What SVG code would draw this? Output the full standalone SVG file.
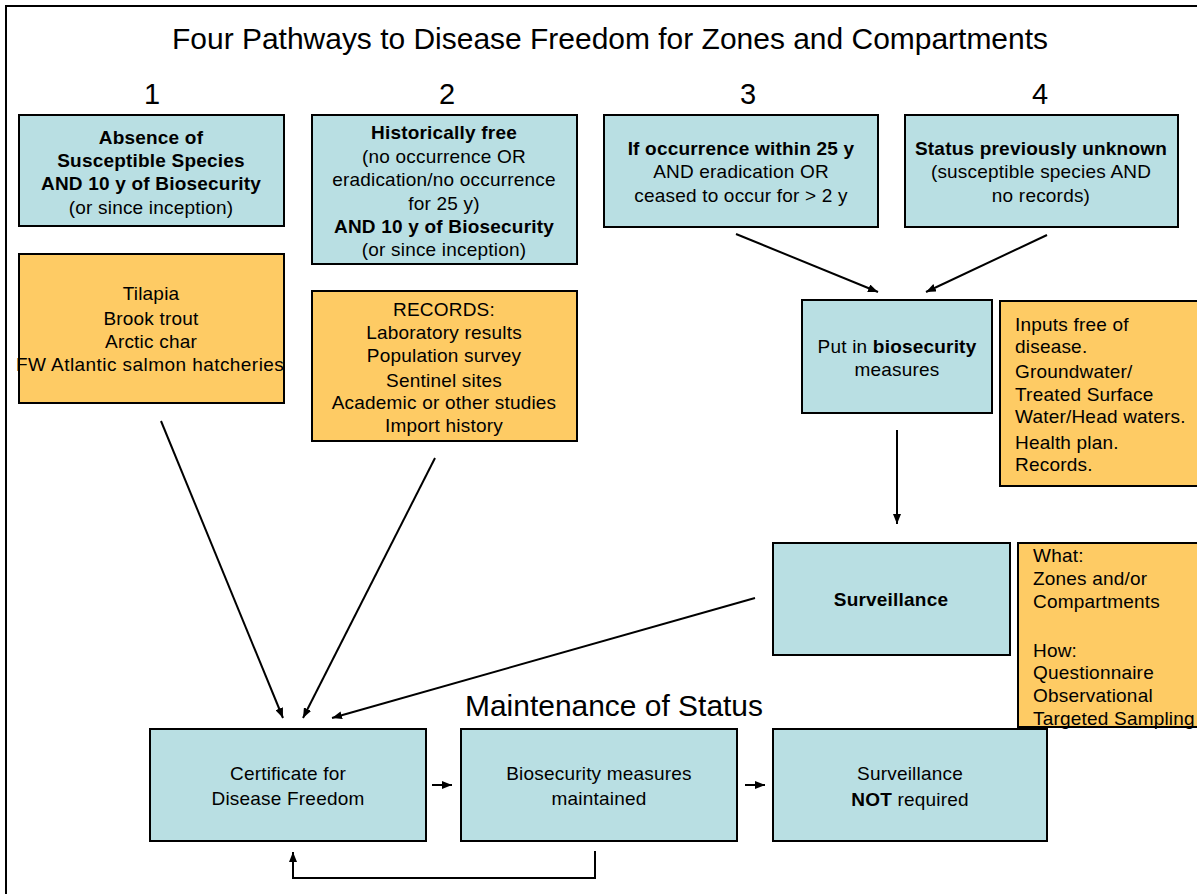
<svg xmlns="http://www.w3.org/2000/svg" width="1197" height="894" viewBox="0 0 1197 894">
<defs>
<marker id="ah" markerUnits="userSpaceOnUse" markerWidth="10" markerHeight="8" refX="10" refY="4" orient="auto">
<path d="M0,0 L10,4 L0,8 z" fill="#000"/>
</marker>
<style>
.blue{fill:#B9DFE3;stroke:#000;stroke-width:2}
.orange{fill:#FECB64;stroke:#000;stroke-width:2}
text{font-family:"Liberation Sans",Arial,sans-serif;fill:#000}
.t{font-size:19px;text-anchor:middle;letter-spacing:0.2px}
.l{font-size:19px;text-anchor:start;letter-spacing:0.2px}
.b{font-weight:bold}
.big{font-size:29px;text-anchor:middle}
.c{stroke:#000;stroke-width:2;fill:none}
.ca{stroke:#000;stroke-width:2;fill:none;marker-end:url(#ah)}
</style>
</defs>
<rect x="0" y="0" width="1197" height="894" fill="#fff"/>
<path d="M6,894 V6 H1197" fill="none" stroke="#000" stroke-width="2"/>

<g id="title">
<text class="big" x="610" y="49" textLength="876" lengthAdjust="spacingAndGlyphs">Four Pathways to Disease Freedom for Zones and Compartments</text>
</g>
<g id="numbers">
<text class="big" x="152" y="104">1</text>
<text class="big" x="447" y="104">2</text>
<text class="big" x="748" y="104">3</text>
<text class="big" x="1040" y="104">4</text>
</g>

<g id="p1">
<rect class="blue" x="19" y="115" width="265" height="111"/>
<text class="t b" x="151" y="144">Absence of</text>
<text class="t b" x="151" y="167">Susceptible Species</text>
<text class="t b" x="151" y="190">AND 10 y of Biosecurity</text>
<text class="t" x="151" y="214">(or since inception)</text>
</g>
<g id="p1-examples">
<rect class="orange" x="19" y="254" width="265" height="149"/>
<text class="t" x="151" y="300">Tilapia</text>
<text class="t" x="151" y="325">Brook trout</text>
<text class="t" x="151" y="348">Arctic char</text>
<text class="t" x="150" y="371" textLength="268" lengthAdjust="spacing">FW Atlantic salmon hatcheries</text>
</g>

<g id="p2">
<rect class="blue" x="312" y="115" width="265" height="149"/>
<text class="t b" x="444" y="139">Historically free</text>
<text class="t" x="444" y="163">(no occurrence OR</text>
<text class="t" x="444" y="186">eradication/no occurrence</text>
<text class="t" x="444" y="210">for 25 y)</text>
<text class="t b" x="444" y="233">AND 10 y of Biosecurity</text>
<text class="t" x="444" y="256">(or since inception)</text>
</g>
<g id="p2-records">
<rect class="orange" x="312" y="291" width="265" height="150"/>
<text class="t" x="444" y="316">RECORDS:</text>
<text class="t" x="444" y="339">Laboratory results</text>
<text class="t" x="444" y="362">Population survey</text>
<text class="t" x="444" y="387">Sentinel sites</text>
<text class="t" x="444" y="409">Academic or other studies</text>
<text class="t" x="444" y="432">Import history</text>
</g>

<g id="p3">
<rect class="blue" x="604" y="115" width="274" height="112"/>
<text class="t b" x="741" y="155">If occurrence within 25 y</text>
<text class="t" x="741" y="178">AND eradication OR</text>
<text class="t" x="741" y="202">ceased to occur for &gt; 2 y</text>
</g>
<g id="p4">
<rect class="blue" x="905" y="115" width="273" height="112"/>
<text class="t b" x="1041" y="155">Status previously unknown</text>
<text class="t" x="1041" y="178">(susceptible species AND</text>
<text class="t" x="1041" y="202">no records)</text>
</g>

<g id="biosecurity">
<rect class="blue" x="802" y="300" width="190" height="113"/>
<text class="t" x="897" y="353">Put in <tspan class="b">biosecurity</tspan></text>
<text class="t" x="897" y="376">measures</text>
</g>
<g id="inputs">
<rect class="orange" x="1000" y="301" width="210" height="185"/>
<text class="l" x="1015" y="331">Inputs free of</text>
<text class="l" x="1015" y="353">disease.</text>
<text class="l" x="1015" y="378">Groundwater/</text>
<text class="l" x="1015" y="401">Treated Surface</text>
<text class="l" x="1015" y="423">Water/Head waters.</text>
<text class="l" x="1015" y="449">Health plan.</text>
<text class="l" x="1015" y="471">Records.</text>
</g>

<g id="surveillance">
<rect class="blue" x="773" y="543" width="237" height="112"/>
<text class="t b" x="891" y="606">Surveillance</text>
</g>
<g id="what-how">
<rect class="orange" x="1018" y="543" width="190" height="184"/>
<text class="l" x="1033" y="562">What:</text>
<text class="l" x="1033" y="585">Zones and/or</text>
<text class="l" x="1033" y="608">Compartments</text>
<text class="l" x="1033" y="657">How:</text>
<text class="l" x="1033" y="679">Questionnaire</text>
<text class="l" x="1033" y="702">Observational</text>
<text class="l" x="1033" y="725">Targeted Sampling</text>
</g>

<g id="maintenance-title">
<text class="big" x="614" y="716" textLength="298" lengthAdjust="spacingAndGlyphs">Maintenance of Status</text>
</g>

<g id="certificate">
<rect class="blue" x="150" y="729" width="276" height="112"/>
<text class="t" x="288" y="780">Certificate for</text>
<text class="t" x="288" y="805">Disease Freedom</text>
</g>
<g id="maintained">
<rect class="blue" x="461" y="729" width="276" height="112"/>
<text class="t" x="599" y="780">Biosecurity measures</text>
<text class="t" x="599" y="805">maintained</text>
</g>
<g id="not-required">
<rect class="blue" x="773" y="729" width="274" height="112"/>
<text class="t" x="910" y="780">Surveillance</text>
<text class="t" x="910" y="806"><tspan class="b">NOT</tspan> required</text>
</g>

<g id="connectors">
<line class="ca" x1="736" y1="234" x2="878" y2="292"/>
<line class="ca" x1="1047" y1="235" x2="926" y2="292"/>
<line class="ca" x1="897" y1="430" x2="897" y2="524"/>
<line class="ca" x1="161" y1="421" x2="283" y2="718"/>
<line class="ca" x1="435" y1="458" x2="303" y2="718"/>
<line class="ca" x1="755" y1="598" x2="332" y2="718"/>
<line class="ca" x1="432" y1="785" x2="452" y2="785"/>
<line class="ca" x1="745" y1="785" x2="765" y2="785"/>
<path class="ca" d="M595,851 V878 H293 V852"/>
</g>
</svg>
